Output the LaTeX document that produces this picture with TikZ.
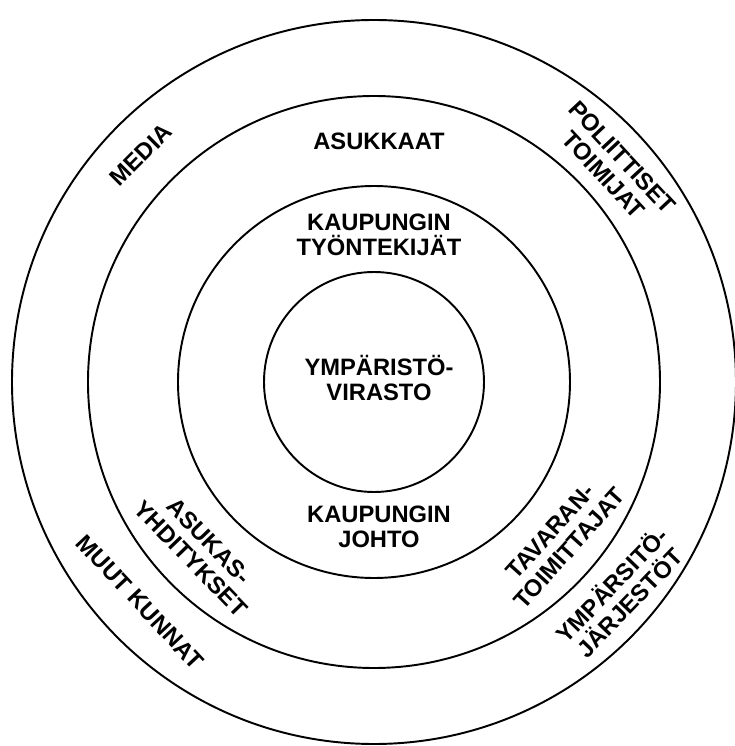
\documentclass[tikz,border=0pt]{standalone}
\usepackage{fontspec}
\setmainfont{Liberation Sans}
\usepackage{tikz}

\begin{document}
\begin{tikzpicture}[
    ring/.style={circle, draw, line width=1.1pt, inner sep=0pt, outer sep=0pt},
    lbl/.style={align=center, inner sep=0pt, font=\fontsize{13.5}{14.5}\selectfont\bfseries}
  ]
  \useasboundingbox (-7.48,-7.28) rectangle (7.22,7.64);
  \node[ring, minimum size=4.4cm] (c1) at (0,0) {};
  \node[ring, minimum size=7.84cm] (c2) at (0,0) {};
  \node[ring, minimum size=11.44cm] (c3) at (0,0) {};
  \node[ring, minimum size=14.48cm] (c4) at (0,0) {};
  \node[lbl] (virasto) at (0.1,0.08) {YMPÄRISTÖ-\\VIRASTO};
  \node[lbl] (tyontekijat) at (0.1,2.94) {KAUPUNGIN\\TYÖNTEKIJÄT};
  \node[lbl] (johto) at (0.1,-2.9) {KAUPUNGIN\\JOHTO};
  \node[lbl] (asukkaat) at (0.1,4.82) {ASUKKAAT};
  \node[lbl, rotate=-46] (yhdistykset) at (-3.48,-3.36) {ASUKAS-\\YHDITYKSET};
  \node[lbl, rotate=48] (toimittajat) at (3.72,-3.16) {TAVARAN-\\TOIMITTAJAT};
  \node[lbl, rotate=45] (media) at (-4.66,4.54) {MEDIA};
  \node[lbl, rotate=-47] (poliittiset) at (4.78,4.32) {POLIITTISET\\TOIMIJAT};
  \node[lbl, rotate=-47] (kunnat) at (-4.68,-4.4) {MUUT KUNNAT};
  \node[lbl, rotate=46] (jarjestot) at (4.92,-4.22) {YMPÄRSITÖ-\\JÄRJESTÖT};
\end{tikzpicture}
\end{document}
